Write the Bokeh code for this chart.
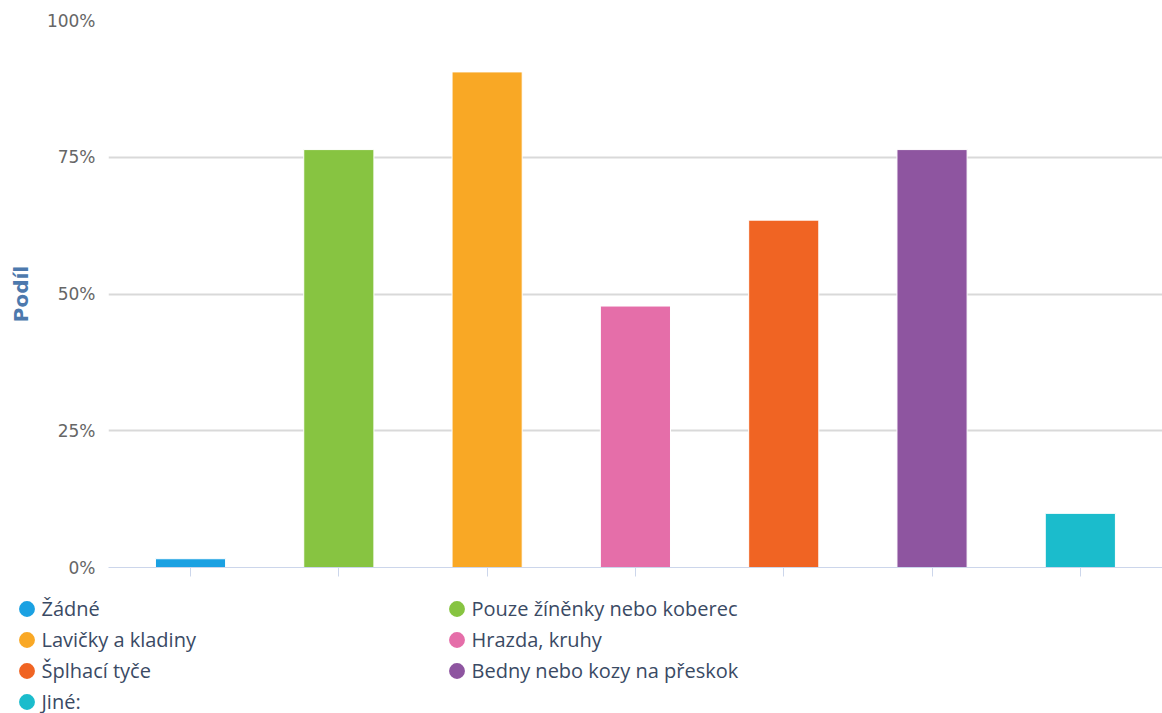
import numpy as np
from bokeh.plotting import figure
from bokeh.layouts import column
from bokeh.models import (ColumnDataSource, Range1d, FixedTicker, NumeralTickFormatter,
                          Legend, LegendItem)
from bokeh.embed import file_html
from bokeh.resources import INLINE

# Equipment categories and the share of respondents who selected each one
categories = ["Žádné", "Pouze žíněnky nebo koberec", "Lavičky a kladiny", "Hrazda, kruhy",
              "Šplhací tyče", "Bedny nebo kozy na přeskok", "Jiné:"]
shares = [0.016, 0.764, 0.906, 0.478, 0.635, 0.764, 0.099]
colors = ["#1ba1e2", "#87c441", "#f9a825", "#e56ea9", "#f06423", "#8e55a0", "#1bbccc"]
y_ticks = [0, 0.25, 0.5, 0.75, 1.0]

positions = list(range(len(categories)))
source = ColumnDataSource(dict(x=positions, top=shares, color=colors, name=categories))

p = figure(width=1162, height=590, output_backend="svg", toolbar_location=None,
           x_range=Range1d(-0.553, len(categories) - 1 + 0.554), y_range=Range1d(0, 1),
           min_border_left=108, min_border_right=0, min_border_top=20, min_border_bottom=23)
p.frame_align = False
p.outline_line_color = None
p.background_fill_color = "white"
p.border_fill_color = "white"

p.vbar(x="x", top="top", width=0.473, source=source, fill_color="color",
       line_color="white", line_width=1)

# y axis: percentage ticks and title
yax = p.yaxis[0]
yax.ticker = FixedTicker(ticks=y_ticks)
yax.formatter = NumeralTickFormatter(format="0%")
yax.axis_line_color = None
yax.major_tick_line_color = None
yax.minor_tick_line_color = None
yax.major_label_standoff = 7
yax.major_label_text_font = "DejaVu Sans"
yax.major_label_text_font_size = "17px"
yax.major_label_text_color = "#666666"
yax.axis_label = "Podíl"
yax.axis_label_text_font = "DejaVu Sans"
yax.axis_label_text_font_style = "bold"
yax.axis_label_text_font_size = "20px"
yax.axis_label_text_color = "#4d79ad"
yax.axis_label_standoff = 11

# x axis: category ticks only, no labels
xax = p.xaxis[0]
xax.ticker = FixedTicker(ticks=positions)
xax.major_label_overrides = {i: "" for i in positions}
xax.major_label_text_font_size = "1px"
xax.major_label_standoff = 0
xax.axis_line_color = "#ccd6eb"
xax.axis_line_width = 1
xax.major_tick_line_color = "#ccd6eb"
xax.major_tick_out = 9
xax.major_tick_in = 0
xax.minor_tick_line_color = None

p.xgrid.grid_line_color = None
p.ygrid.ticker = FixedTicker(ticks=y_ticks)
p.ygrid.grid_line_color = "#d9d9d9"
p.ygrid.grid_line_width = 2

# legend strip below the chart: round markers in two columns
lg = figure(width=1162, height=123, output_backend="svg", toolbar_location=None,
            x_axis_type=None, y_axis_type=None,
            x_range=Range1d(0, 1), y_range=Range1d(0, 1),
            min_border_left=0, min_border_right=0, min_border_top=0, min_border_bottom=0)
lg.frame_align = False
lg.outline_line_color = None
lg.xgrid.grid_line_color = None
lg.ygrid.grid_line_color = None

items = []
for label, col in zip(categories, colors):
    r = lg.scatter(x=[0.5], y=[np.nan], size=12, marker="circle",
                   fill_color=col, line_color=col, line_width=3.5)
    items.append(LegendItem(label=label, renderers=[r]))

legend = Legend(items=items, ncols=2, nrows=4, orientation="horizontal",
                location=(10.5, -3.5),
                glyph_width=31, glyph_height=31, spacing=0, label_standoff=0,
                label_width=399, label_height=31, padding=0, margin=0,
                border_line_color=None, background_fill_alpha=0,
                label_text_font="Open Sans", label_text_font_size="20px",
                label_text_color="#3a4a64")
lg.add_layout(legend, "center")

layout = column(p, lg, spacing=0)
open("out.html", "w").write(file_html(layout, INLINE))
